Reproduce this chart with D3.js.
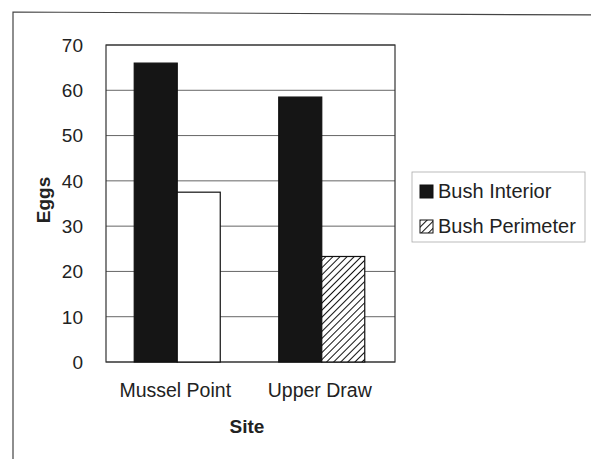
<!DOCTYPE html>
<html>
<head>
<meta charset="utf-8">
<script src="https://cdn.jsdelivr.net/npm/d3@7"></script>
<style>
  body { margin: 0; background: #fff; }
  svg { font-family: "Liberation Sans", Arial, sans-serif; }
</style>
</head>
<body>
<div id="chart"></div>
<script>
const sites = ['Mussel Point', 'Upper Draw'];
const seriesNames = ['Bush Interior', 'Bush Perimeter'];
const interior = [66, 58.5];
const perimeter = [37.5, 23.3];
const yTicks = [0, 10, 20, 30, 40, 50, 60, 70];

const width = 591, height = 459;
const margin = { top: 45, right: 196, bottom: 97, left: 106 };

const svg = d3.select('#chart')
  .append('svg')
  .attr('width', width)
  .attr('height', height);

const defs = svg.append('defs');
const hatch = defs.append('pattern')
  .attr('id', 'hatch')
  .attr('patternUnits', 'userSpaceOnUse')
  .attr('width', 5)
  .attr('height', 5)
  .attr('patternTransform', 'rotate(45)');
hatch.append('rect').attr('width', 5).attr('height', 5).attr('fill', '#fff');
hatch.append('line')
  .attr('x1', 0).attr('y1', 0).attr('x2', 0).attr('y2', 5)
  .attr('stroke', '#111').attr('stroke-width', 2);

// outer chart frame
svg.append('path')
  .attr('d', 'M13,470 L13,12 L600,15')
  .attr('fill', 'none')
  .attr('stroke', '#444')
  .attr('stroke-width', 1.2);

const x0 = d3.scaleBand()
  .domain(sites)
  .range([margin.left, width - margin.right]);

const x1 = d3.scaleBand()
  .domain(seriesNames)
  .range([0, x0.bandwidth()])
  .paddingOuter(0.68)
  .paddingInner(0);

const y = d3.scaleLinear()
  .domain([0, 70])
  .range([height - margin.bottom, margin.top]);

// gridlines
svg.append('g')
  .selectAll('line')
  .data(yTicks)
  .join('line')
  .attr('x1', margin.left)
  .attr('x2', width - margin.right)
  .attr('y1', d => y(d))
  .attr('y2', d => y(d))
  .attr('stroke', '#666')
  .attr('stroke-width', 1);

// plot frame
svg.append('rect')
  .attr('x', margin.left)
  .attr('y', margin.top)
  .attr('width', width - margin.right - margin.left)
  .attr('height', height - margin.bottom - margin.top)
  .attr('fill', 'none')
  .attr('stroke', '#333')
  .attr('stroke-width', 1.2);

const rows = sites.map((s, i) => ({ site: s, values: [interior[i], perimeter[i]] }));

const groups = svg.append('g')
  .selectAll('g')
  .data(rows)
  .join('g')
  .attr('transform', d => `translate(${x0(d.site) - 1},0)`);

groups.selectAll('rect')
  .data((d, i) => d.values.map((v, j) => ({ key: seriesNames[j], value: v, site: i })))
  .join('rect')
  .attr('x', d => x1(d.key))
  .attr('y', d => y(d.value))
  .attr('width', x1.bandwidth())
  .attr('height', d => y(0) - y(d.value))
  .attr('fill', d => d.key === 'Bush Interior' ? '#151515' : (d.site === 0 ? '#fff' : 'url(#hatch)'))
  .attr('stroke', '#111')
  .attr('stroke-width', 1.2);

// y axis labels
svg.append('g')
  .selectAll('text')
  .data(yTicks)
  .join('text')
  .attr('x', 83)
  .attr('y', d => y(d))
  .attr('dy', '0.36em')
  .attr('text-anchor', 'end')
  .attr('font-size', 19)
  .attr('fill', '#222')
  .text(d => d);

// category labels
svg.append('g')
  .selectAll('text')
  .data(sites)
  .join('text')
  .attr('x', d => x0(d) + x0.bandwidth() / 2 - 3)
  .attr('y', 397)
  .attr('text-anchor', 'middle')
  .attr('font-size', 19.5)
  .attr('fill', '#222')
  .text(d => d);

svg.append('text')
  .attr('x', 247)
  .attr('y', 433)
  .attr('text-anchor', 'middle')
  .attr('font-size', 19)
  .attr('font-weight', 'bold')
  .attr('fill', '#222')
  .text('Site');

svg.append('text')
  .attr('transform', `translate(50,200) rotate(-90)`)
  .attr('text-anchor', 'middle')
  .attr('font-size', 19)
  .attr('font-weight', 'bold')
  .attr('fill', '#222')
  .text('Eggs');

// legend
const legend = svg.append('g').attr('transform', 'translate(412,172)');
legend.append('rect')
  .attr('width', 173)
  .attr('height', 70)
  .attr('fill', '#fff')
  .attr('stroke', '#aaa')
  .attr('stroke-width', 0.8);

const items = legend.selectAll('g')
  .data(seriesNames)
  .join('g')
  .attr('transform', (d, i) => `translate(8,${19.5 + i * 35})`);

items.append('rect')
  .attr('x', 0)
  .attr('y', -6.5)
  .attr('width', 13)
  .attr('height', 13)
  .attr('fill', d => d === 'Bush Interior' ? '#151515' : 'url(#hatch)')
  .attr('stroke', '#111')
  .attr('stroke-width', 1);

items.append('text')
  .attr('x', 18)
  .attr('y', 0)
  .attr('dy', 6)
  .attr('font-size', 20)
  .attr('fill', '#222')
  .text(d => d);
</script>
</body>
</html>
